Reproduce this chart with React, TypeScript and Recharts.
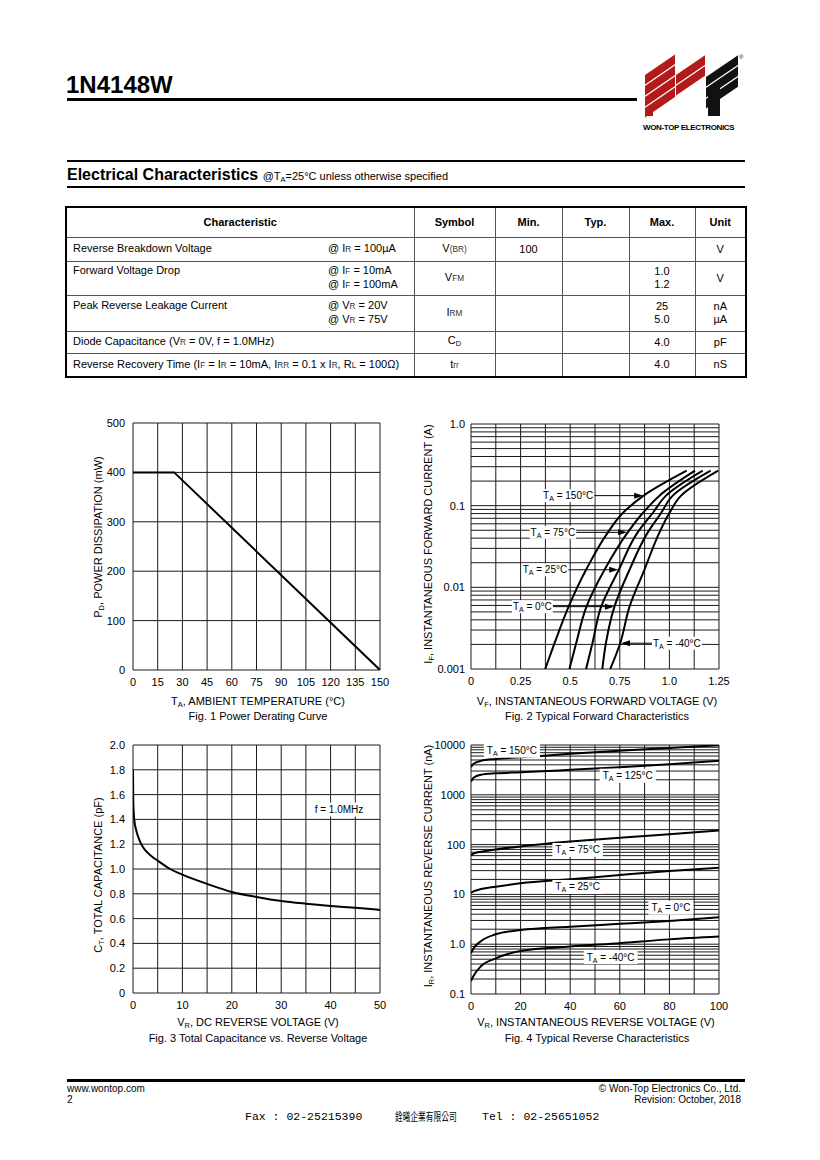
import React from 'react';
import { LineChart, Line, XAxis, YAxis, CartesianGrid, ReferenceDot } from 'recharts';

const FONT = '"Liberation Sans", Arial, Helvetica, sans-serif';

// ---------------- Fig. 1 : Power derating ----------------
const fig1Temp = [0, 25, 150];
const fig1Power = [400, 400, 0];
const fig1XTicks = [0, 15, 30, 45, 60, 75, 90, 105, 120, 135, 150];
const fig1YTicks = [0, 100, 200, 300, 400, 500];

// ---------------- Fig. 2 : Forward characteristics ----------------
const fig2XTicks = [0, 0.25, 0.5, 0.75, 1.0, 1.25];
const fig2XTickLabels = ['0', '0.25', '0.5', '0.75', '1.0', '1.25'];
const fig2XGrid = [0, 0.125, 0.25, 0.375, 0.5, 0.625, 0.75, 0.875, 1.0, 1.125, 1.25];
const fig2YTicks = [0.001, 0.01, 0.1, 1];
const fig2YTickLabels = ['0.001', '0.01', '0.1', '1.0'];
const fig2YGrid = [
  0.001, 0.002, 0.003, 0.004, 0.005, 0.006, 0.007, 0.008, 0.009,
  0.01, 0.02, 0.03, 0.04, 0.05, 0.06, 0.07, 0.08, 0.09,
  0.1, 0.2, 0.3, 0.4, 0.5, 0.6, 0.7, 0.8, 0.9, 1,
];
const fig2I = [0.001, 0.00207, 0.0058, 0.0164, 0.0471, 0.0813, 0.1327, 0.268];
const fig2V150 = [0.374, 0.421, 0.492, 0.58, 0.69, 0.765, 0.87, 1.087];
const fig2V75 = [0.496, 0.53, 0.582, 0.673, 0.79, 0.866, 0.95, 1.129];
const fig2V25 = [0.58, 0.612, 0.656, 0.745, 0.84, 0.916, 0.983, 1.168];
const fig2V0 = [0.662, 0.68, 0.723, 0.799, 0.891, 0.958, 1.017, 1.208];
const fig2VM40 = [0.702, 0.752, 0.799, 0.874, 0.95, 1.0, 1.059, 1.246];
const fig2LabelText = ['150°C', '75°C', '25°C', '0°C', '-40°C'];
const fig2ArrowV = [0.868, 0.787, 0.742, 0.72, 0.756];
const fig2ArrowI = [0.1327, 0.0471, 0.0164, 0.0058, 0.00207];
const fig2ArrowDir = [1, 1, 1, 1, -1];
const fig2ArrowLen = [49, 51, 50, 61, 31];

// ---------------- Fig. 3 : Capacitance ----------------
const fig3V = [0, 0.05, 0.25, 0.6, 1, 1.5, 2, 3, 4, 5, 7.5, 10, 15, 20, 25, 30, 35, 40, 45, 50];
const fig3C = [1.8, 1.55, 1.4, 1.32, 1.265, 1.215, 1.178, 1.13, 1.095, 1.068, 1.0, 0.955, 0.88, 0.815, 0.775, 0.742, 0.72, 0.702, 0.687, 0.67];
const fig3XTicks = [0, 10, 20, 30, 40, 50];
const fig3XGrid = [0, 5, 10, 15, 20, 25, 30, 35, 40, 45, 50];
const fig3YTicks = [0, 0.2, 0.4, 0.6, 0.8, 1.0, 1.2, 1.4, 1.6, 1.8, 2.0];
const fig3YTickLabels = ['0', '0.2', '0.4', '0.6', '0.8', '1.0', '1.2', '1.4', '1.6', '1.8', '2.0'];
const fig3Note = 'f = 1.0MHz';
const fig3NoteV = 41.7;
const fig3NoteC = 1.48;

// ---------------- Fig. 4 : Reverse characteristics ----------------
const fig4V = [0, 1, 4, 10, 20, 40, 60, 80, 100];
const fig4I150 = [3560, 4200, 4800, 5240, 5650, 6650, 7650, 8750, 9900];
const fig4I125 = [1840, 2200, 2520, 2700, 2830, 3170, 3580, 4100, 4840];
const fig4I75 = [62, 66, 72, 80, 92, 115, 138, 161, 193];
const fig4I25 = [10.8, 11.5, 12.8, 14.3, 16.7, 20.1, 24.5, 29.5, 34.4];
const fig4I0 = [0.66, 0.82, 1.15, 1.58, 1.93, 2.25, 2.56, 2.93, 3.47];
const fig4IM40 = [0.182, 0.23, 0.36, 0.52, 0.73, 0.9, 1.05, 1.25, 1.42];
const fig4XTicks = [0, 20, 40, 60, 80, 100];
const fig4XGrid = [0, 10, 20, 30, 40, 50, 60, 70, 80, 90, 100];
const fig4YTicks = [0.1, 1, 10, 100, 1000, 10000];
const fig4YTickLabels = ['0.1', '1.0', '10', '100', '1000', '10000'];
const fig4YGrid = [
  0.1, 0.2, 0.3, 0.4, 0.5, 0.6, 0.7, 0.8, 0.9,
  1, 2, 3, 4, 5, 6, 7, 8, 9,
  10, 20, 30, 40, 50, 60, 70, 80, 90,
  100, 200, 300, 400, 500, 600, 700, 800, 900,
  1000, 2000, 3000, 4000, 5000, 6000, 7000, 8000, 9000, 10000,
];
const fig4LabelText = ['150°C', '125°C', '75°C', '25°C', '0°C', '-40°C'];
const fig4LabelV = [16.5, 63.2, 43, 43, 80.6, 56.3];
const fig4LabelI = [7690, 2420, 78, 14.1, 5.41, 0.553];

// ---------------- helpers ----------------
const pts = (xs: number[], ys: number[]) => xs.map((x, i) => ({ x, y: ys[i] }));
const fmt = (ticks: number[], labels: string[]) => (v: number) => {
  const k = ticks.findIndex((t) => Math.abs(t - v) < 1e-9);
  return k >= 0 ? labels[k] : String(v);
};

const tickStyle = { fontSize: 11, fill: '#000', fontFamily: FONT };
const GRID = '#1a1a1a';
const MARGIN = { top: 10, right: 20, bottom: 8, left: 0 };
const YW = 50;
const XH = 25;
const frame = (x0: number, y0: number, x1: number, y1: number) => ({
  left: x0 - YW,
  top: y0 - MARGIN.top,
  width: x1 - x0 + YW + MARGIN.right,
  height: y1 - y0 + MARGIN.top + MARGIN.bottom + XH,
});

const labelWidth = (s: string) => {
  let w = 6.1 + 4.7 + 11.4; // "T", sub "A", " = "
  for (const ch of s) {
    if (ch >= '0' && ch <= '9') w += 5.56;
    else if (ch === '°') w += 4;
    else if (ch === 'C') w += 7.2;
    else if (ch === '-') w += 3.3;
  }
  return w + 2;
};

const TempText = ({ x, y, label }: { x: number; y: number; label: string }) => (
  <text x={x} y={y + 3.5} textAnchor="middle" fontSize={10} fontFamily={FONT} fill="#000">
    T<tspan fontSize={7} dy={2}>A</tspan>
    <tspan dy={-2}>{' = ' + label}</tspan>
  </text>
);

const makeArrowShape = (label: string, dir: number, len: number) => (props: any) => {
  const { cx, cy } = props;
  if (cx == null || cy == null) return <g />;
  const w = labelWidth(label);
  const edge = cx - dir * len;
  const boxX = dir > 0 ? edge - w : edge;
  return (
    <g>
      <line x1={edge} y1={cy} x2={cx - dir * 7} y2={cy} stroke="#000" strokeWidth={1} />
      <polygon points={`${cx},${cy} ${cx - dir * 9},${cy - 3} ${cx - dir * 9},${cy + 3}`} fill="#000" />
      <rect x={boxX} y={cy - 6.5} width={w} height={13} fill="#fff" />
      <TempText x={boxX + w / 2} y={cy} label={label} />
    </g>
  );
};

const makeBoxShape = (label: string) => (props: any) => {
  const { cx, cy } = props;
  if (cx == null || cy == null) return <g />;
  const w = labelWidth(label) + 4;
  return (
    <g>
      <rect x={cx - w / 2} y={cy - 7} width={w} height={14} fill="#fff" />
      <TempText x={cx} y={cy} label={label} />
    </g>
  );
};

const noteShape = (props: any) => {
  const { cx, cy } = props;
  if (cx == null || cy == null) return <g />;
  return (
    <g>
      <rect x={cx - 25} y={cy - 7} width={50} height={14} fill="#fff" />
      <text x={cx} y={cy + 3.5} textAnchor="middle" fontSize={10} fontFamily={FONT} fill="#000">
        {fig3Note}
      </text>
    </g>
  );
};

const Sub = ({ c }: { c: string }) => (
  <span style={{ fontSize: '0.68em', verticalAlign: '-0.22em' }}>{c}</span>
);
const Sm = ({ c }: { c: string }) => <span style={{ fontSize: '0.75em', color: '#333' }}>{c}</span>;

const Txt = ({ x, y, rot, children }: { x: number; y: number; rot?: boolean; children: React.ReactNode }) => (
  <div
    style={{
      position: 'absolute',
      left: x,
      top: y,
      transform: `translate(-50%, -50%)${rot ? ' rotate(-90deg)' : ''}`,
      whiteSpace: 'nowrap',
      fontSize: 11,
      lineHeight: '12px',
    }}
  >
    {children}
  </div>
);

const lineProps = {
  stroke: '#000',
  strokeWidth: 2,
  dot: false,
  isAnimationActive: false,
  type: 'monotone' as const,
};

// ---------------- charts ----------------
const Fig1 = () => {
  const f = frame(133, 423, 380, 670);
  return (
    <div style={{ position: 'absolute', left: f.left, top: f.top }}>
      <LineChart width={f.width} height={f.height} margin={MARGIN} data={pts(fig1Temp, fig1Power)}>
        <CartesianGrid stroke={GRID} strokeWidth={1} horizontalValues={fig1YTicks} verticalValues={fig1XTicks} />
        <XAxis dataKey="x" type="number" domain={[0, 150]} ticks={fig1XTicks} interval={0} height={XH}
          tick={tickStyle} tickLine={false} axisLine={false} allowDataOverflow />
        <YAxis type="number" domain={[0, 500]} ticks={fig1YTicks} interval={0} width={YW}
          tick={tickStyle} tickLine={false} axisLine={false} allowDataOverflow />
        <Line dataKey="y" {...lineProps} type="linear" />
      </LineChart>
    </div>
  );
};

const Fig2 = () => {
  const f = frame(471, 424, 719, 669);
  // ordered from high current to low current so the steep curves interpolate along y
  const series = [fig2V150, fig2V75, fig2V25, fig2V0, fig2VM40].map((vs) => pts(vs, fig2I).reverse());
  return (
    <div style={{ position: 'absolute', left: f.left, top: f.top }}>
      <LineChart width={f.width} height={f.height} margin={MARGIN}>
        <CartesianGrid stroke={GRID} strokeWidth={1} horizontalValues={fig2YGrid} verticalValues={fig2XGrid} />
        <XAxis dataKey="x" type="number" domain={[0, 1.25]} ticks={fig2XTicks} interval={0} height={XH}
          tick={tickStyle} tickLine={false} axisLine={false} tickFormatter={fmt(fig2XTicks, fig2XTickLabels)} allowDataOverflow />
        <YAxis type="number" scale="log" domain={[0.001, 1]} ticks={fig2YTicks} interval={0} width={YW} tickMargin={0}
          tick={tickStyle} tickLine={false} axisLine={false} tickFormatter={fmt(fig2YTicks, fig2YTickLabels)} allowDataOverflow />
        {series.map((d, i) => (
          <Line key={i} data={d} dataKey="y" {...lineProps} type="monotoneY" />
        ))}
        {fig2LabelText.map((t, i) => (
          <ReferenceDot key={'a' + i} x={fig2ArrowV[i]} y={fig2ArrowI[i]} r={0} ifOverflow="visible"
            shape={makeArrowShape(t, fig2ArrowDir[i], fig2ArrowLen[i])} />
        ))}
      </LineChart>
    </div>
  );
};

const Fig3 = () => {
  const f = frame(133, 745, 380, 993);
  return (
    <div style={{ position: 'absolute', left: f.left, top: f.top }}>
      <LineChart width={f.width} height={f.height} margin={MARGIN} data={pts(fig3V, fig3C)}>
        <CartesianGrid stroke={GRID} strokeWidth={1} horizontalValues={fig3YTicks} verticalValues={fig3XGrid} />
        <XAxis dataKey="x" type="number" domain={[0, 50]} ticks={fig3XTicks} interval={0} height={XH}
          tick={tickStyle} tickLine={false} axisLine={false} allowDataOverflow />
        <YAxis type="number" domain={[0, 2]} ticks={fig3YTicks} interval={0} width={YW}
          tick={tickStyle} tickLine={false} axisLine={false} tickFormatter={fmt(fig3YTicks, fig3YTickLabels)} allowDataOverflow />
        <Line dataKey="y" {...lineProps} />
        <ReferenceDot x={fig3NoteV} y={fig3NoteC} r={0} ifOverflow="visible" shape={noteShape} />
      </LineChart>
    </div>
  );
};

const Fig4 = () => {
  const f = frame(471, 745, 719, 994);
  const series = [fig4I150, fig4I125, fig4I75, fig4I25, fig4I0, fig4IM40].map((ys) => pts(fig4V, ys));
  return (
    <div style={{ position: 'absolute', left: f.left, top: f.top }}>
      <LineChart width={f.width} height={f.height} margin={MARGIN}>
        <CartesianGrid stroke={GRID} strokeWidth={1} horizontalValues={fig4YGrid} verticalValues={fig4XGrid} />
        <XAxis dataKey="x" type="number" domain={[0, 100]} ticks={fig4XTicks} interval={0} height={XH}
          tick={tickStyle} tickLine={false} axisLine={false} allowDataOverflow />
        <YAxis type="number" scale="log" domain={[0.1, 10000]} ticks={fig4YTicks} interval={0} width={YW} tickMargin={0}
          tick={tickStyle} tickLine={false} axisLine={false} tickFormatter={fmt(fig4YTicks, fig4YTickLabels)} allowDataOverflow />
        {series.map((d, i) => (
          <Line key={i} data={d} dataKey="y" {...lineProps} />
        ))}
        {fig4LabelText.map((t, i) => (
          <ReferenceDot key={'l' + i} x={fig4LabelV[i]} y={fig4LabelI[i]} r={0} ifOverflow="visible" shape={makeBoxShape(t)} />
        ))}
      </LineChart>
    </div>
  );
};

// ---------------- page pieces ----------------
const Logo = () => {
  const stripes = (x0: number, x1: number, y0: number, n: number, fill: string) =>
    Array.from({ length: n }).map((_, k) => {
      const rise = (x1 - x0) * 0.68;
      const yL = y0 + 11 * k;
      return (
        <polygon key={fill + x0 + k}
          points={`${x0},${yL} ${x1},${yL - rise} ${x1},${yL - rise + 9.5} ${x0},${yL + 9.5}`}
          fill={fill} />
      );
    });
  return (
    <svg width={110} height={72} style={{ position: 'absolute', left: 640, top: 50 }}>
      {stripes(5, 35, 25, 4, '#b31b1b')}
      <rect x={5} y={58} width={8} height={8} fill="#b31b1b" />
      {stripes(36, 65, 25, 2, '#b31b1b')}
      {stripes(66, 98, 27, 3, '#111')}
      <polygon points="68,42 80,34 80,66 68,66" fill="#111" />
      <text x={99} y={9} fontSize={6} fontFamily={FONT}>®</text>
    </svg>
  );
};

const cell: React.CSSProperties = {
  border: '1px solid #555',
  padding: 0,
  textAlign: 'center',
  verticalAlign: 'middle',
  fontSize: 11,
  lineHeight: '13px',
};
const left: React.CSSProperties = { ...cell, textAlign: 'left', paddingLeft: 6 };

const Char = ({ d, c }: { d: React.ReactNode; c?: React.ReactNode }) => (
  <div style={{ display: 'flex' }}>
    <div style={{ width: 255 }}>{d}</div>
    {c ? <div>{c}</div> : null}
  </div>
);

const Table = () => (
  <table
    style={{
      position: 'absolute',
      left: 65,
      top: 206,
      width: 680,
      borderCollapse: 'collapse',
      tableLayout: 'fixed',
      border: '2px solid #000',
      fontFamily: FONT,
    }}
  >
    <colgroup>
      <col style={{ width: 348 }} />
      <col style={{ width: 81 }} />
      <col style={{ width: 67 }} />
      <col style={{ width: 67 }} />
      <col style={{ width: 66 }} />
      <col style={{ width: 51 }} />
    </colgroup>
    <tbody>
      <tr style={{ height: 30, fontWeight: 'bold' }}>
        <td style={cell}>Characteristic</td>
        <td style={cell}>Symbol</td>
        <td style={cell}>Min.</td>
        <td style={cell}>Typ.</td>
        <td style={cell}>Max.</td>
        <td style={cell}>Unit</td>
      </tr>
      <tr style={{ height: 24 }}>
        <td style={left}><Char d="Reverse Breakdown Voltage" c={<>@ I<Sm c="R" /> = 100µA</>} /></td>
        <td style={cell}>V<Sm c="(BR)" /></td>
        <td style={cell}>100</td>
        <td style={cell}></td>
        <td style={cell}></td>
        <td style={cell}>V</td>
      </tr>
      <tr style={{ height: 34 }}>
        <td style={left}><Char d="Forward Voltage Drop" c={<>@ I<Sm c="F" /> = 10mA<br />@ I<Sm c="F" /> = 100mA</>} /></td>
        <td style={cell}>V<Sm c="FM" /></td>
        <td style={cell}></td>
        <td style={cell}></td>
        <td style={cell}>1.0<br />1.2</td>
        <td style={cell}>V</td>
      </tr>
      <tr style={{ height: 36 }}>
        <td style={left}><Char d="Peak Reverse Leakage Current" c={<>@ V<Sm c="R" /> = 20V<br />@ V<Sm c="R" /> = 75V</>} /></td>
        <td style={cell}>I<Sm c="RM" /></td>
        <td style={cell}></td>
        <td style={cell}></td>
        <td style={cell}>25<br />5.0</td>
        <td style={cell}>nA<br />µA</td>
      </tr>
      <tr style={{ height: 22 }}>
        <td style={left}>Diode Capacitance (V<Sm c="R" /> = 0V, f = 1.0MHz)</td>
        <td style={cell}>C<Sub c="D" /></td>
        <td style={cell}></td>
        <td style={cell}></td>
        <td style={cell}>4.0</td>
        <td style={cell}>pF</td>
      </tr>
      <tr style={{ height: 24 }}>
        <td style={left}>Reverse Recovery Time (I<Sm c="F" /> = I<Sm c="R" /> = 10mA, I<Sm c="RR" /> = 0.1 x I<Sm c="R" />, R<Sm c="L" /> = 100Ω)</td>
        <td style={cell}>t<Sm c="rr" /></td>
        <td style={cell}></td>
        <td style={cell}></td>
        <td style={cell}>4.0</td>
        <td style={cell}>nS</td>
      </tr>
    </tbody>
  </table>
);

const abs = (l: number, t: number, extra: React.CSSProperties = {}): React.CSSProperties => ({
  position: 'absolute',
  left: l,
  top: t,
  whiteSpace: 'nowrap',
  ...extra,
});

export default function App() {
  return (
    <div
      style={{
        position: 'absolute',
        left: 0,
        top: 0,
        width: 820,
        height: 1160,
        background: '#fff',
        overflow: 'hidden',
        fontFamily: FONT,
        color: '#000',
      }}
    >
      {/* header */}
      <div style={abs(66, 73, { fontSize: 24, lineHeight: '24px', fontWeight: 'bold' })}>1N4148W</div>
      <div style={abs(67, 98, { width: 570, height: 3, background: '#000' })} />
      <Logo />
      <div style={abs(643, 123, { fontSize: 8, lineHeight: '9px', fontWeight: 'bold', letterSpacing: -0.35 })}>
        WON-TOP ELECTRONICS
      </div>

      <div style={abs(67, 160, { width: 678, height: 2, background: '#000' })} />
      <div style={abs(67, 167, { fontSize: 16, lineHeight: '16px', fontWeight: 'bold' })}>
        Electrical Characteristics{' '}
        <span style={{ fontSize: 11, fontWeight: 'normal' }}>
          @T<Sub c="A" />=25°C unless otherwise specified
        </span>
      </div>
      <div style={abs(67, 186, { width: 678, height: 2, background: '#000' })} />

      <Table />

      {/* charts */}
      <Fig1 />
      <Fig2 />
      <Fig3 />
      <Fig4 />

      {/* axis titles and captions */}
      <Txt x={100} y={537} rot>P<Sub c="D" />, POWER DISSIPATION (mW)</Txt>
      <Txt x={258} y={703}>T<Sub c="A" />, AMBIENT TEMPERATURE (°C)</Txt>
      <Txt x={258} y={716}>Fig. 1 Power Derating Curve</Txt>

      <Txt x={430} y={544} rot>I<Sub c="F" />, INSTANTANEOUS FORWARD CURRENT (A)</Txt>
      <Txt x={597} y={703}>V<Sub c="F" />, INSTANTANEOUS FORWARD VOLTAGE (V)</Txt>
      <Txt x={597} y={716}>Fig. 2 Typical Forward Characteristics</Txt>

      <Txt x={100} y={875} rot>C<Sub c="T" />, TOTAL CAPACITANCE (pF)</Txt>
      <Txt x={258} y={1024}>V<Sub c="R" />, DC REVERSE VOLTAGE (V)</Txt>
      <Txt x={258} y={1038}>Fig. 3 Total Capacitance vs. Reverse Voltage</Txt>

      <Txt x={430} y={866} rot>I<Sub c="R" />, INSTANTANEOUS REVERSE CURRENT (nA)</Txt>
      <Txt x={596} y={1024}>V<Sub c="R" />, INSTANTANEOUS REVERSE VOLTAGE (V)</Txt>
      <Txt x={597} y={1038}>Fig. 4 Typical Reverse Characteristics</Txt>

      {/* footer */}
      <div style={abs(67, 1079, { width: 678, height: 3, background: '#000' })} />
      <div style={abs(67, 1083, { fontSize: 10, lineHeight: '11px' })}>
        www.wontop.com
        <br />2
      </div>
      <div style={abs(545, 1083, { width: 196, fontSize: 10, lineHeight: '11px', textAlign: 'right' })}>
        © Won-Top Electronics Co., Ltd.
        <br />
        Revision: October, 2018
      </div>
      <div style={abs(245, 1110, { fontSize: 11.5, lineHeight: '13px', fontFamily: '"Liberation Mono", "DejaVu Sans Mono", monospace' })}>
        Fax : 02-25215390
      </div>
      <div style={abs(395, 1110, { fontSize: 11, lineHeight: '13px', fontFamily: '"Noto Sans CJK TC", sans-serif', transform: 'scaleX(0.7)', transformOrigin: 'left center' })}>
        銓曦企業有限公司
      </div>
      <div style={abs(482, 1110, { fontSize: 11.5, lineHeight: '13px', fontFamily: '"Liberation Mono", "DejaVu Sans Mono", monospace' })}>
        Tel : 02-25651052
      </div>
    </div>
  );
}
